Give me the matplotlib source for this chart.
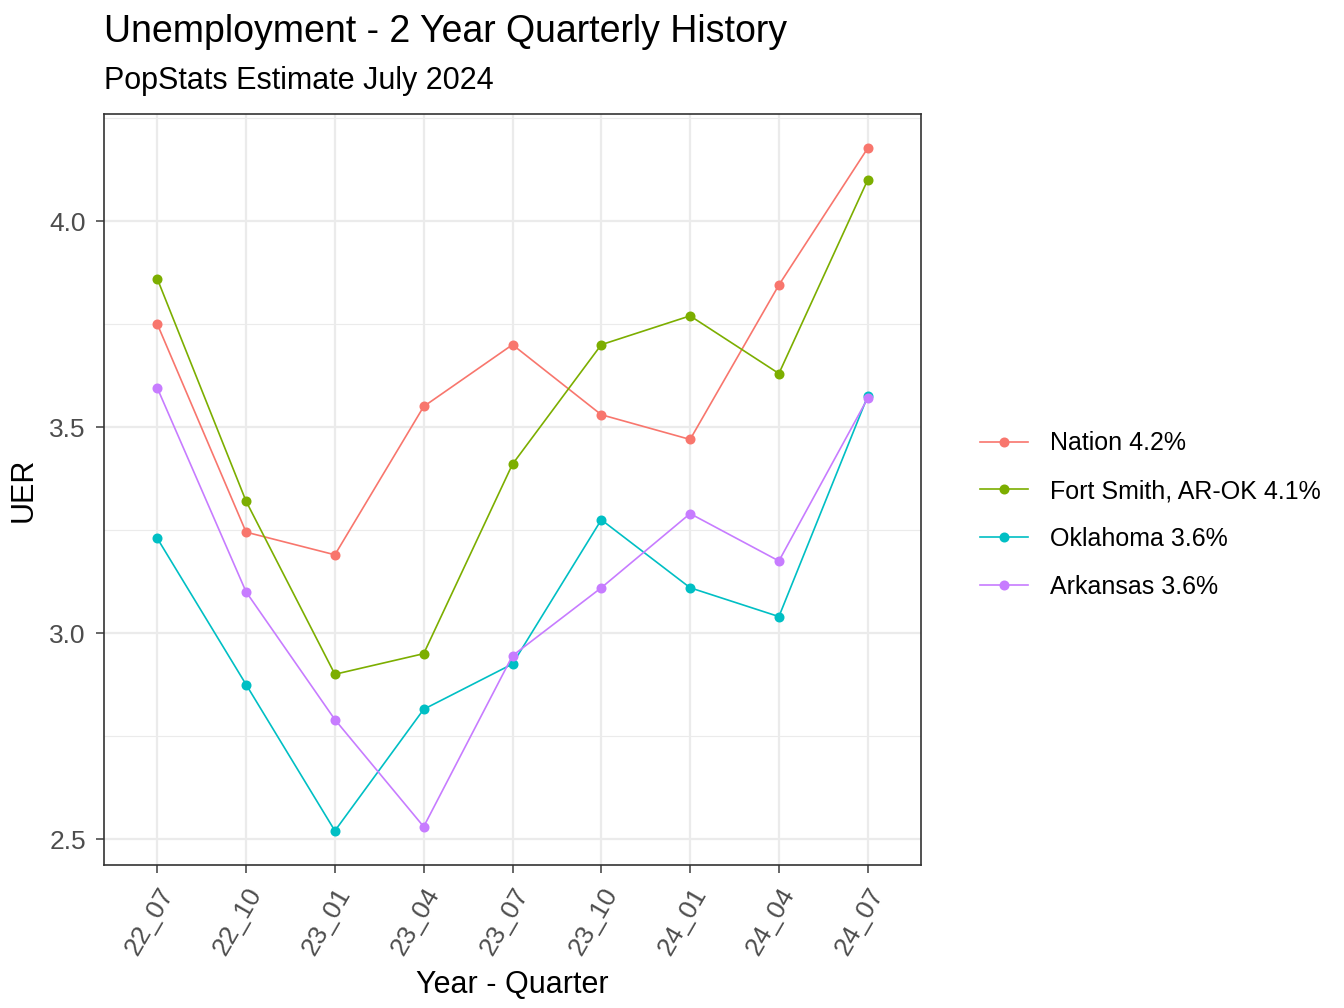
import matplotlib.pyplot as plt

quarters = ["22_07", "22_10", "23_01", "23_04", "23_07", "23_10", "24_01", "24_04", "24_07"]
nation = [3.75, 3.245, 3.19, 3.55, 3.70, 3.53, 3.47, 3.845, 4.177]
fort_smith = [3.86, 3.32, 2.90, 2.95, 3.41, 3.70, 3.77, 3.63, 4.10]
oklahoma = [3.23, 2.875, 2.52, 2.815, 2.925, 3.275, 3.11, 3.04, 3.575]
arkansas = [3.595, 3.10, 2.79, 2.53, 2.945, 3.11, 3.29, 3.175, 3.57]

series = [
    ("Nation 4.2%", nation, "#F8766D"),
    ("Fort Smith, AR-OK 4.1%", fort_smith, "#7CAE00"),
    ("Oklahoma 3.6%", oklahoma, "#00BFC4"),
    ("Arkansas 3.6%", arkansas, "#C77CFF"),
]

plt.rcParams["font.family"] = "Liberation Sans"
fig = plt.figure(figsize=(6.72, 5.04), dpi=200)
ax = fig.add_axes([104 / 1344, 1 - 865 / 1008, 817 / 1344, 751 / 1008])

x = list(range(len(quarters)))
for name, vals, col in series:
    ax.plot(x, vals, color=col, lw=0.6, marker="o", ms=2.6, label=name)

ax.set_xlim(-0.6, 8.6)
ax.set_ylim(2.437, 4.26)
ax.set_yticks([2.5, 3.0, 3.5, 4.0])
ax.set_yticks([2.75, 3.25, 3.75, 4.25], minor=True)
ax.set_xticks(x)
ax.set_xticklabels(quarters, rotation=60, ha="right", rotation_mode="anchor")
ax.grid(True, which="major", color="#EBEBEB", lw=0.8)
ax.grid(True, which="minor", axis="y", color="#EBEBEB", lw=0.4)
ax.set_axisbelow(True)
for s in ax.spines.values():
    s.set_color("#333333")
    s.set_linewidth(0.6)
ax.tick_params(colors="#4D4D4D", labelsize=9.5, width=0.6, length=3)
ax.tick_params(which="minor", length=0)
ax.set_xlabel("Year - Quarter", fontsize=11)
ax.set_ylabel("UER", fontsize=11)

fig.text(104 / 1344, 1 - 32 / 1008, "Unemployment - 2 Year Quarterly History", fontsize=13.5, va="center")
fig.text(104 / 1344, 1 - 81 / 1008, "PopStats Estimate July 2024", fontsize=11, va="center")

ax.legend(loc="center left", bbox_to_anchor=(1.045, 0.466), frameon=False, fontsize=9,
          handlelength=1.9, handletextpad=0.9, labelspacing=0.95)

fig.savefig("out.png", dpi=200)
